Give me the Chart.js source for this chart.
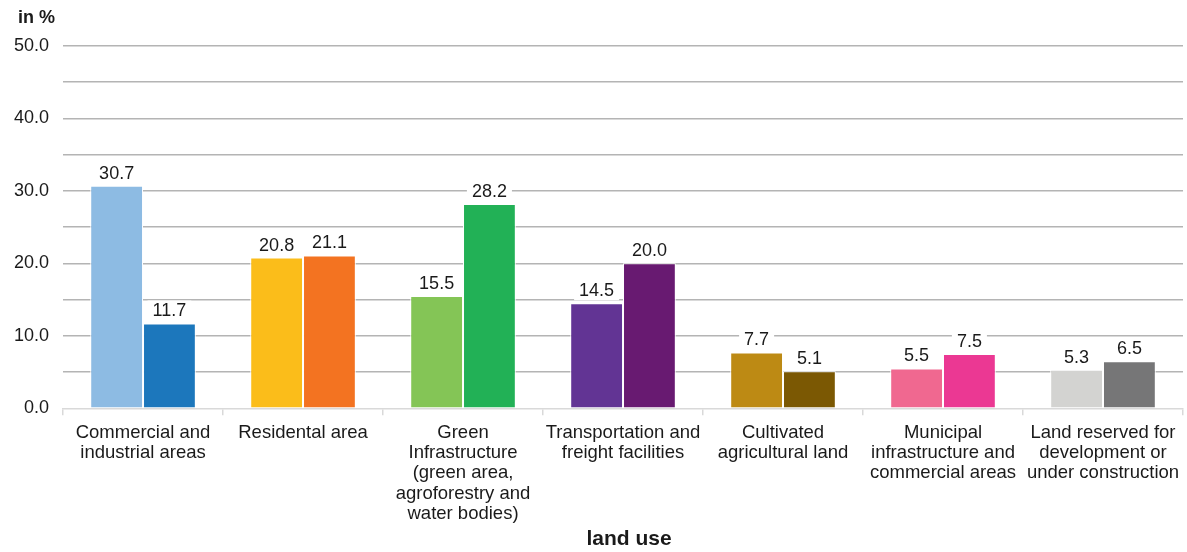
<!DOCTYPE html>
<html>
<head>
<meta charset="utf-8">
<script src="https://cdn.jsdelivr.net/npm/chart.js@4.4.1/dist/chart.umd.min.js"></script>
<style>
  html, body { margin: 0; padding: 0; background: #fff; }
  #wrap { width: 1187px; height: 552px; position: relative; }
</style>
</head>
<body>
<div id="wrap"><canvas id="landChart"></canvas></div>
<script>
// land use categories (multi-line labels)
const categories = [
    ['Commercial and', 'industrial areas'],
    ['Residental area'],
    ['Green', 'Infrastructure', '(green area,', 'agroforestry and', 'water bodies)'],
    ['Transportation and', 'freight facilities'],
    ['Cultivated', 'agricultural land'],
    ['Municipal', 'infrastructure and', 'commercial areas'],
    ['Land reserved for', 'development or', 'under construction']
];

const firstValues = [30.7, 20.8, 15.5, 14.5, 7.7, 5.5, 5.3];
const secondValues = [11.7, 21.1, 28.2, 20.0, 5.1, 7.5, 6.5];

const firstColors = ['#8dbbe3', '#fbbd1a', '#84c556', '#623494', '#bd8a14', '#f06890', '#d3d3d1'];
const secondColors = ['#1c77bc', '#f37321', '#22b156', '#681a71', '#7b5803', '#eb3893', '#767677'];

const yTicks = [0, 10, 20, 30, 40, 50];

const FONT = 'Liberation Sans, Arial, sans-serif';

// values above the bars (white box cuts the grid lines), plus unit and axis captions
const barLabels = {
    id: 'barLabels',
    afterDatasetsDraw(chart) {
        const ctx = chart.ctx;
        ctx.save();
        ctx.font = '18px ' + FONT;
        ctx.textAlign = 'center';
        ctx.textBaseline = 'alphabetic';
        chart.data.datasets.forEach((ds, i) => {
            chart.getDatasetMeta(i).data.forEach((bar, j) => {
                const txt = ds.data[j].toFixed(1);
                const w = ctx.measureText(txt).width;
                const base = bar.y - 7;
                ctx.fillStyle = '#fff';
                ctx.fillRect(bar.x - w / 2 - 5, base - 16, w + 10, 20);
                ctx.fillStyle = '#1a1a1a';
                ctx.fillText(txt, bar.x, base);
            });
        });
        ctx.fillStyle = '#1a1a1a';
        ctx.font = 'bold 18px ' + FONT;
        ctx.textAlign = 'left';
        ctx.fillText('in %', 18, 23);
        ctx.font = 'bold 21px ' + FONT;
        ctx.textAlign = 'center';
        ctx.fillText('land use', 629, 545);
        ctx.restore();
    }
};

new Chart(document.getElementById('landChart'), {
    type: 'bar',
    data: {
        labels: categories,
        datasets: [
            {
                data: firstValues,
                backgroundColor: firstColors,
                borderColor: '#ffffff',
                borderWidth: 1,
                categoryPercentage: 0.66,
                barPercentage: 1
            },
            {
                data: secondValues,
                backgroundColor: secondColors,
                borderColor: '#ffffff',
                borderWidth: 1,
                categoryPercentage: 0.66,
                barPercentage: 1
            }
        ]
    },
    options: {
        responsive: true,
        maintainAspectRatio: false,
        animation: false,
        layout: { padding: { top: 46, right: 4, left: 0, bottom: 21 } },
        plugins: {
            legend: { display: false },
            tooltip: { enabled: false }
        },
        scales: {
            y: {
                min: 0,
                max: 50,
                border: { display: false },
                grid: {
                    drawTicks: false,
                    color: ctx => ctx.tick.value === 0 ? 'rgba(0,0,0,0)' : '#b4b4b4',
                    lineWidth: 1.5
                },
                ticks: {
                    stepSize: 5,
                    padding: 14,
                    color: '#1a1a1a',
                    font: { family: FONT, size: 18 },
                    callback: v => yTicks.includes(v) ? v.toFixed(1) : ''
                }
            },
            x: {
                offset: true,
                border: { color: '#d9d9d9', width: 1.5 },
                grid: {
                    offset: true,
                    drawOnChartArea: false,
                    color: '#d9d9d9',
                    tickLength: 7,
                    lineWidth: 1.5
                },
                ticks: {
                    maxRotation: 0,
                    autoSkip: false,
                    padding: 7,
                    color: '#1a1a1a',
                    font: { family: FONT, size: 18.5, lineHeight: 1.1 }
                }
            }
        }
    },
    plugins: [barLabels]
});
</script>
</body>
</html>
